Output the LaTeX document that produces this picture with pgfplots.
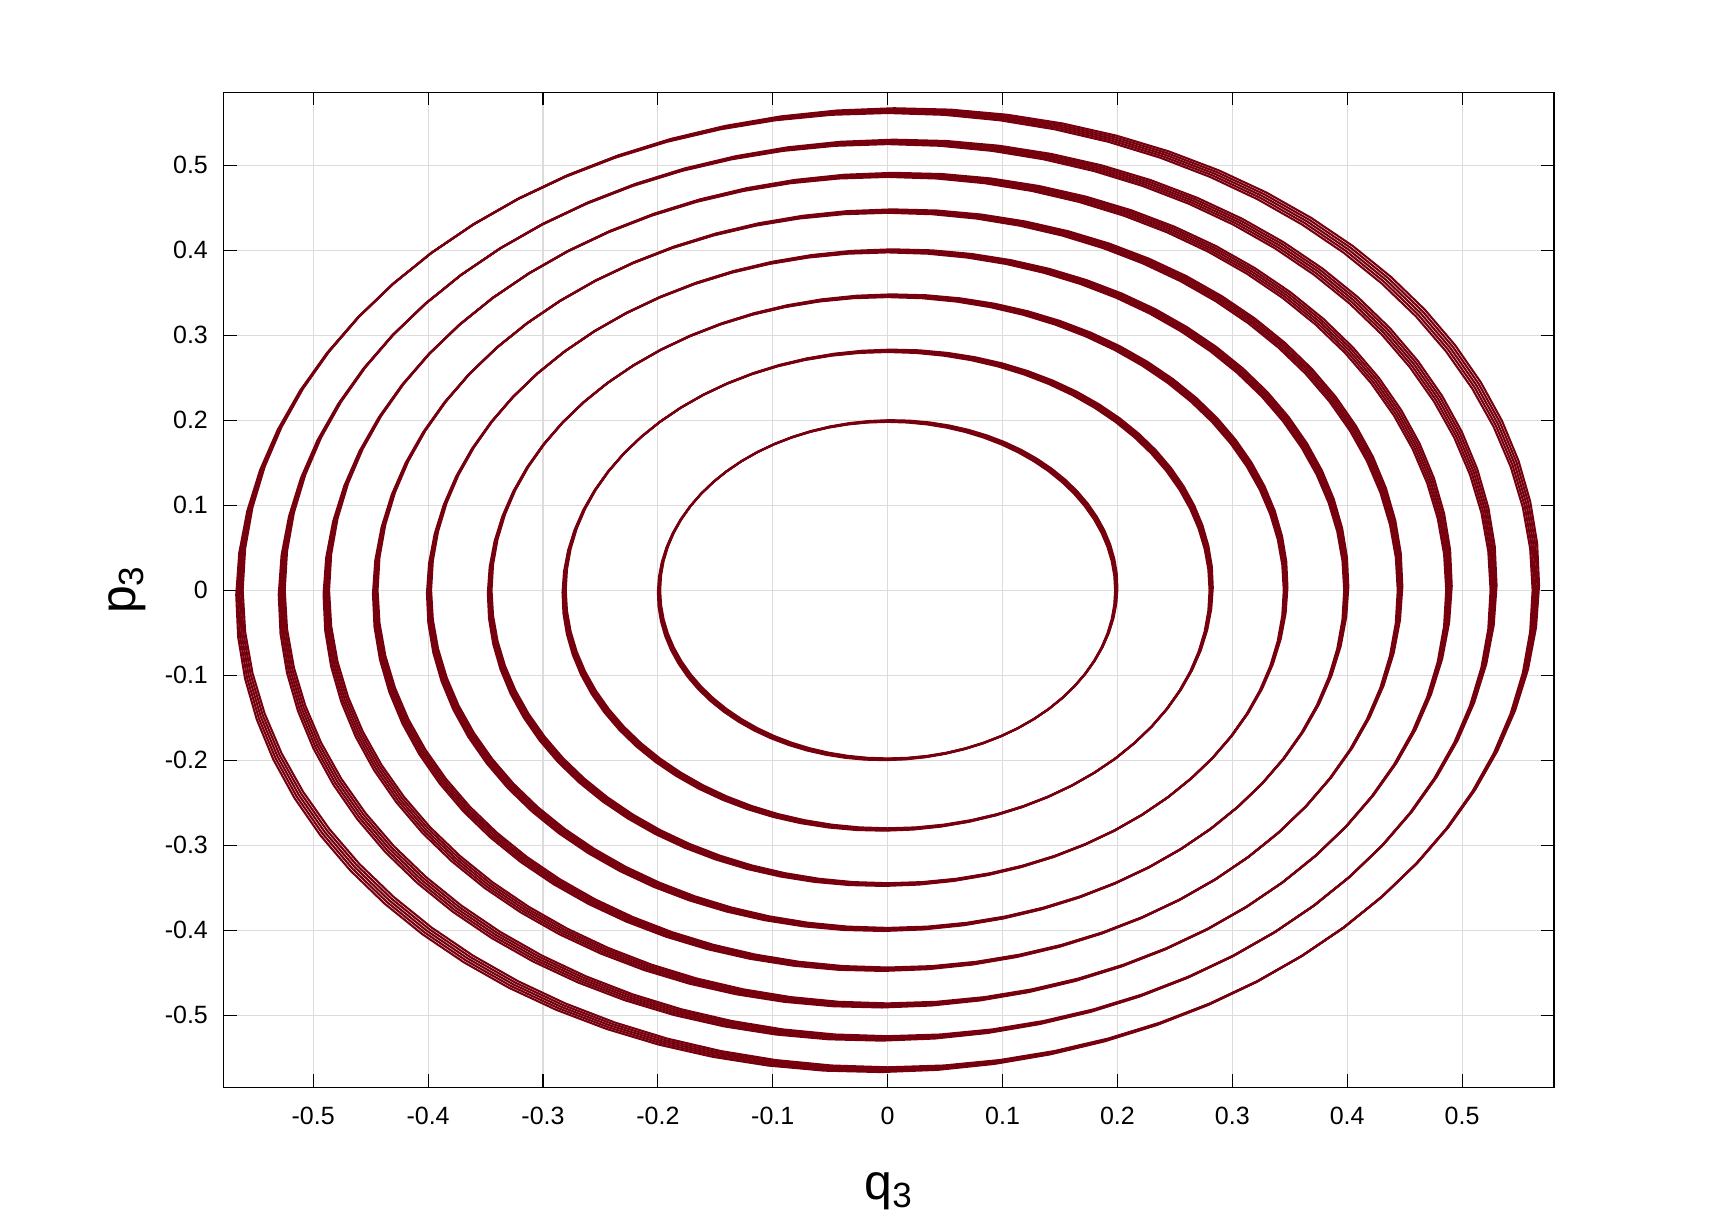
\documentclass[border=0pt]{standalone}
\usepackage{pgfplots}
\pgfplotsset{compat=1.18}
\usepackage{pgfplotstable}
\usepackage{fontspec}
\setmainfont{Liberation Sans}
\definecolor{ringred}{RGB}{118,0,14}
\definecolor{gridgray}{RGB}{220,220,220}

% unit circle, 5 degree steps
\pgfplotstableread{
c s
1.0000 0.0000
0.9962 0.0872
0.9848 0.1736
0.9659 0.2588
0.9397 0.3420
0.9063 0.4226
0.8660 0.5000
0.8192 0.5736
0.7660 0.6428
0.7071 0.7071
0.6428 0.7660
0.5736 0.8192
0.5000 0.8660
0.4226 0.9063
0.3420 0.9397
0.2588 0.9659
0.1736 0.9848
0.0872 0.9962
0.0000 1.0000
-0.0872 0.9962
-0.1736 0.9848
-0.2588 0.9659
-0.3420 0.9397
-0.4226 0.9063
-0.5000 0.8660
-0.5736 0.8192
-0.6428 0.7660
-0.7071 0.7071
-0.7660 0.6428
-0.8192 0.5736
-0.8660 0.5000
-0.9063 0.4226
-0.9397 0.3420
-0.9659 0.2588
-0.9848 0.1736
-0.9962 0.0872
-1.0000 0.0000
-0.9962 -0.0872
-0.9848 -0.1736
-0.9659 -0.2588
-0.9397 -0.3420
-0.9063 -0.4226
-0.8660 -0.5000
-0.8192 -0.5736
-0.7660 -0.6428
-0.7071 -0.7071
-0.6428 -0.7660
-0.5736 -0.8192
-0.5000 -0.8660
-0.4226 -0.9063
-0.3420 -0.9397
-0.2588 -0.9659
-0.1736 -0.9848
-0.0872 -0.9962
0.0000 -1.0000
0.0872 -0.9962
0.1736 -0.9848
0.2588 -0.9659
0.3420 -0.9397
0.4226 -0.9063
0.5000 -0.8660
0.5736 -0.8192
0.6428 -0.7660
0.7071 -0.7071
0.7660 -0.6428
0.8192 -0.5736
0.8660 -0.5000
0.9063 -0.4226
0.9397 -0.3420
0.9659 -0.2588
0.9848 -0.1736
0.9962 -0.0872
1.0000 0.0000
}\unitcircle

% one loop of a band: outer radius #1, step #2, loop index #3
% (radius grows and the loop tilts a little with each index)
\newcommand\loopline[3]{%
  \addplot[ringred, line width=1pt]
    table[x expr=\thisrow{c}*(#1-4*#2+#3*#2)+\thisrow{s}*#3*#2,
          y expr=\thisrow{s}*(#1-4*#2+#3*#2)+\thisrow{c}*#3*#2] {\unitcircle};
}
\newcommand\ring[2]{%
  \loopline{#1}{#2}{0}\loopline{#1}{#2}{1}\loopline{#1}{#2}{2}\loopline{#1}{#2}{3}\loopline{#1}{#2}{4}%
}

\begin{document}
\begin{tikzpicture}
\begin{axis}[
    scale only axis,
    width=638.4pt,
    height=477.6pt,
    xmin=-0.578, xmax=0.58,
    ymin=-0.585, ymax=0.586,
    xtick={-0.5,-0.4,...,0.5},
    ytick={-0.5,-0.4,...,0.5},
    xticklabels={-0.5,-0.4,-0.3,-0.2,-0.1,0,0.1,0.2,0.3,0.4,0.5},
    yticklabels={-0.5,-0.4,-0.3,-0.2,-0.1,0,0.1,0.2,0.3,0.4,0.5},
    tick label style={font=\fontsize{12}{14}\selectfont},
    xticklabel style={yshift=-6pt},
    yticklabel style={xshift=-4pt},
    tick align=inside,
    major tick length=6.4pt,
    tick style={black, line width=0.5pt},
    axis line style={black, line width=0.5pt},
    grid=major,
    grid style={gridgray, line width=0.5pt},
    xlabel={q$_{\mathrm{3}}$},
    ylabel={p$_{\mathrm{3}}$},
    label style={font=\fontsize{24}{28}\selectfont},
    xlabel style={yshift=-16pt},
    ylabel style={yshift=2pt},
]
\ring{0.200}{0.0005}
\ring{0.283}{0.0007}
\ring{0.348}{0.0008}
\ring{0.401}{0.0009}
\ring{0.448}{0.0010}
\ring{0.491}{0.0012}
\ring{0.530}{0.0013}
\ring{0.567}{0.0014}
\end{axis}
\path (current axis.south west) ++(-107.3pt,-64.8pt) coordinate (bbA);
\path (current axis.north east) ++(78.7pt,44.2pt) coordinate (bbB);
\useasboundingbox (bbA) rectangle (bbB);
\end{tikzpicture}
\end{document}
